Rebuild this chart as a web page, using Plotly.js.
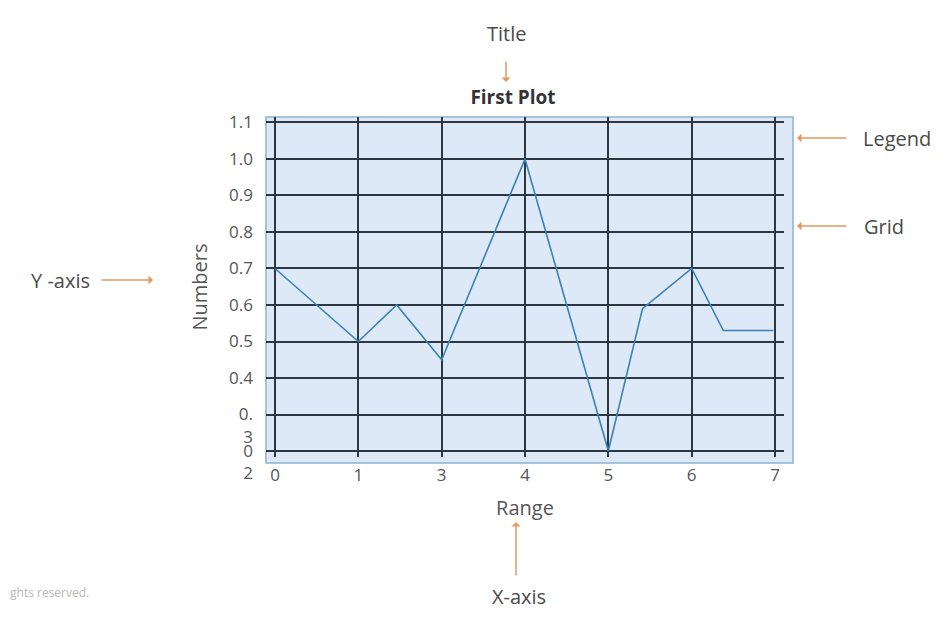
<!DOCTYPE html>
<html>
<head>
<meta charset="utf-8">
<script src="https://cdn.plot.ly/plotly-3.0.1.min.js"></script>
<style>
  html, body { margin: 0; padding: 0; background: #ffffff; }
  #chart { width: 946px; height: 619px; }
</style>
</head>
<body>
<div id="chart"></div>
<script>
// ---- data ----
const xPositions = [0, 1, 1.46, 2, 3, 4, 4.41, 5, 5.38, 5.98];
const yValues    = [0.70, 0.50, 0.60, 0.45, 1.00, 0.20, 0.59, 0.70, 0.53, 0.53];
const xTickVals  = [0, 1, 2, 3, 4, 5, 6];
const xTickText  = ['0', '1', '3', '4', '5', '6', '7'];
const yTickVals  = [0.2, 0.3, 0.4, 0.5, 0.6, 0.7, 0.8, 0.9, 1.0, 1.1];
const yTickText  = ['\u00a0<br>0<br>2', '\u00a0<br>0.<br>3', '0.4', '0.5', '0.6', '0.7', '0.8', '0.9', '1.0', '1.1'];
const calloutLabels = ['Title', 'Legend', 'Grid', 'Y -axis', 'X-axis'];

// ---- layout geometry ----
const W = 946, H = 619;
const M = {l: 266, r: 162, t: 117, b: 162};
const PW = W - M.l - M.r, PH = H - M.t - M.b;
const px = x => (x - M.l) / PW;          // pixel -> paper x
const py = y => (H - M.b - y) / PH;      // pixel -> paper y

const FONT = '"Open Sans", "Noto Sans", sans-serif';
const ORANGE = '#e39a5c';
const TXT = '#4a4a4a';

const trace = {
  x: xPositions,
  y: yValues,
  type: 'scatter',
  mode: 'lines',
  line: {color: '#3a82b2', width: 1.6},
  hoverinfo: 'none',
  showlegend: false
};

function arrow(hx, hy, tx, ty) {
  return {
    xref: 'paper', yref: 'paper', x: px(hx), y: py(hy),
    ax: tx - hx, ay: ty - hy, text: '',
    showarrow: true, arrowhead: 1, arrowsize: 1, arrowwidth: 1.5,
    arrowcolor: ORANGE, standoff: 0, startstandoff: 0
  };
}
function label(text, cx, cy, size, color) {
  return {
    xref: 'paper', yref: 'paper', x: px(cx), y: py(cy),
    xanchor: 'center', yanchor: 'middle', showarrow: false,
    text: text, font: {family: FONT, size: size || 20, color: color || TXT}
  };
}

const layout = {
  width: W, height: H,
  margin: M,
  paper_bgcolor: '#ffffff',
  plot_bgcolor: 'rgba(0,0,0,0)',
  font: {family: FONT, color: '#555'},
  title: {
    text: '<b>First Plot</b>',
    font: {family: FONT, size: 19, color: '#333'},
    x: 513 / W, xanchor: 'center',
    y: 1 - 97 / H, yanchor: 'middle'
  },
  xaxis: {
    range: [-0.108, 6.108],
    tickvals: xTickVals, ticktext: xTickText,
    showgrid: true, gridcolor: '#2d3742', gridwidth: 2,
    zeroline: false, showline: false, ticks: '',
    tickfont: {family: FONT, size: 17, color: '#555'},
    ticklabelstandoff: 6,
    title: {text: 'Range', font: {family: FONT, size: 20, color: '#555'}, standoff: 15},
    automargin: false, fixedrange: true
  },
  yaxis: {
    range: [0.1836, 1.115],
    tickvals: yTickVals, ticktext: yTickText,
    showgrid: true, gridcolor: '#2d3742', gridwidth: 2,
    zeroline: false, showline: false, ticks: '',
    tickfont: {family: FONT, size: 17, color: '#555'},
    ticklabelstandoff: 12,
    title: {text: 'Numbers', font: {family: FONT, size: 20, color: '#555'}, standoff: 16},
    automargin: false, fixedrange: true
  },
  shapes: [{
    type: 'rect', xref: 'paper', yref: 'paper', layer: 'below',
    x0: 0, x1: px(793), y0: py(463), y1: 1,
    fillcolor: '#dde9f6', line: {color: '#8db3d3', width: 1.5}
  }],
  annotations: [
    label(calloutLabels[0], 506, 33),
    arrow(506, 82, 506, 60),
    label(calloutLabels[1], 897, 138),
    arrow(797, 138, 848, 138),
    label(calloutLabels[2], 884, 226),
    arrow(797, 226, 848, 226),
    label(calloutLabels[3], 60, 280),
    arrow(153, 280, 100, 280),
    label(calloutLabels[4], 519, 596),
    arrow(516, 522, 516, 577),
    {xref: 'paper', yref: 'paper', x: px(8), y: py(592), xanchor: 'left', yanchor: 'middle',
     showarrow: false, text: 'ghts reserved.', font: {family: FONT, size: 12, color: '#b8b8b8'}}
  ]
};

Plotly.newPlot('chart', [trace], layout, {displayModeBar: false, staticPlot: true});
</script>
</body>
</html>
